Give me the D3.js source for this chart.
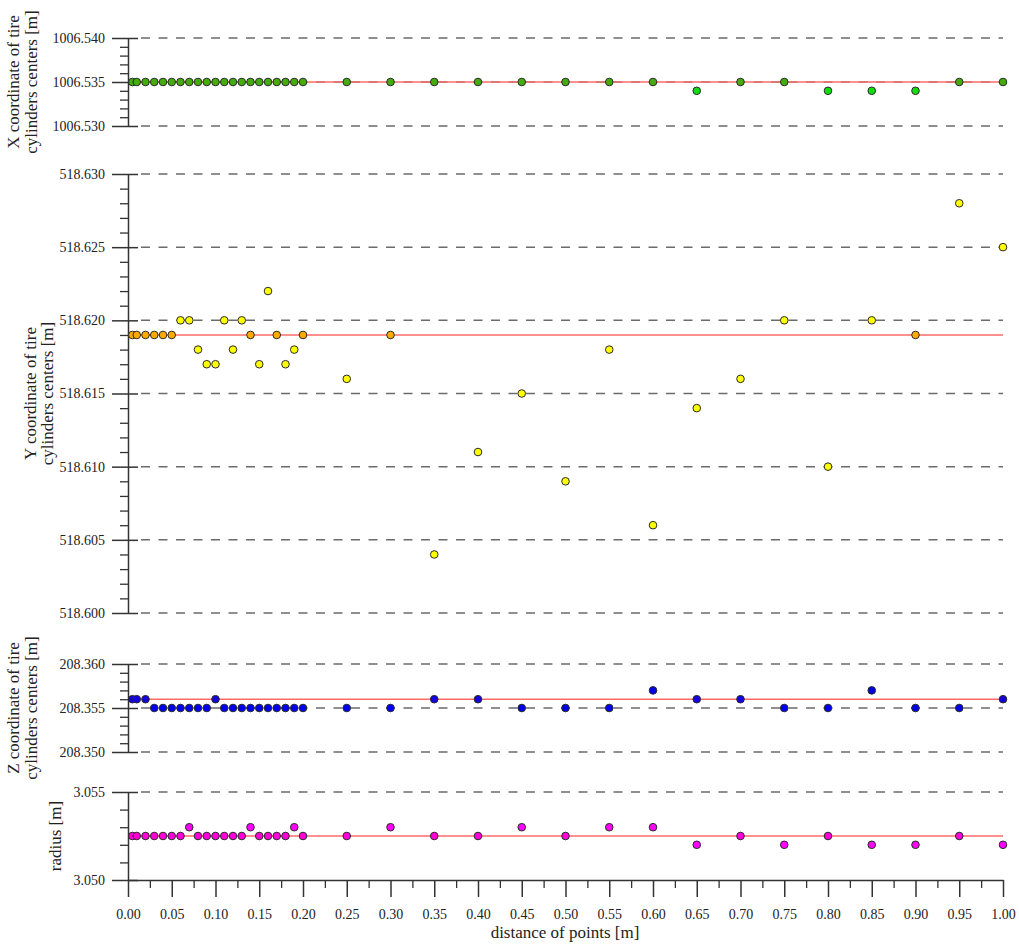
<!DOCTYPE html>
<meta charset="utf-8">
<head>
  <script src="https://d3js.org/d3.v7.min.js"></script>
  <style>
    body { margin: 0; background: #fff; }
    text { font-family: "Liberation Serif", "Times New Roman", serif; fill: #222; }
  </style>
</head>
<body>
<div id="chart"></div>
<script>
// distances along the tire [m]
var distance = [0.005, 0.01, 0.02, 0.03, 0.04, 0.05, 0.06, 0.07, 0.08, 0.09, 0.10,
  0.11, 0.12, 0.13, 0.14, 0.15, 0.16, 0.17, 0.18, 0.19, 0.20,
  0.25, 0.30, 0.35, 0.40, 0.45, 0.50, 0.55, 0.60, 0.65, 0.70, 0.75, 0.80, 0.85, 0.90, 0.95, 1.00];

var xCenter = [1006.535, 1006.535, 1006.535, 1006.535, 1006.535, 1006.535, 1006.535, 1006.535, 1006.535, 1006.535, 1006.535,
  1006.535, 1006.535, 1006.535, 1006.535, 1006.535, 1006.535, 1006.535, 1006.535, 1006.535, 1006.535,
  1006.535, 1006.535, 1006.535, 1006.535, 1006.535, 1006.535, 1006.535, 1006.535, 1006.534, 1006.535,
  1006.535, 1006.534, 1006.534, 1006.534, 1006.535, 1006.535];

var yCenter = [518.619, 518.619, 518.619, 518.619, 518.619, 518.619, 518.620, 518.620, 518.618, 518.617, 518.617,
  518.620, 518.618, 518.620, 518.619, 518.617, 518.622, 518.619, 518.617, 518.618, 518.619,
  518.616, 518.619, 518.604, 518.611, 518.615, 518.609, 518.618, 518.606, 518.614, 518.616,
  518.620, 518.610, 518.620, 518.619, 518.628, 518.625];

var zCenter = [208.356, 208.356, 208.356, 208.355, 208.355, 208.355, 208.355, 208.355, 208.355, 208.355, 208.356,
  208.355, 208.355, 208.355, 208.355, 208.355, 208.355, 208.355, 208.355, 208.355, 208.355,
  208.355, 208.355, 208.356, 208.356, 208.355, 208.355, 208.355, 208.357, 208.356, 208.356,
  208.355, 208.355, 208.357, 208.355, 208.355, 208.356];

var radius = [3.0525, 3.0525, 3.0525, 3.0525, 3.0525, 3.0525, 3.0525, 3.053, 3.0525, 3.0525, 3.0525,
  3.0525, 3.0525, 3.0525, 3.053, 3.0525, 3.0525, 3.0525, 3.0525, 3.053, 3.0525,
  3.0525, 3.053, 3.0525, 3.0525, 3.053, 3.0525, 3.053, 3.053, 3.052, 3.0525,
  3.052, 3.0525, 3.052, 3.052, 3.0525, 3.052];

// mean values (red lines)
var means = [1006.535, 518.619, 208.356, 3.0525];

// tick labels
var xTicks = [0, 0.05, 0.10, 0.15, 0.20, 0.25, 0.30, 0.35, 0.40, 0.45, 0.50,
  0.55, 0.60, 0.65, 0.70, 0.75, 0.80, 0.85, 0.90, 0.95, 1.00];
var xTicksMinor = [0.025, 0.075, 0.125, 0.175, 0.225, 0.275, 0.325, 0.375, 0.425, 0.475,
  0.525, 0.575, 0.625, 0.675, 0.725, 0.775, 0.825, 0.875, 0.925, 0.975];
var xTickLabels = ["1006.530", "1006.535", "1006.540"];
var yTickLabels = ["518.600", "518.605", "518.610", "518.615", "518.620", "518.625", "518.630"];
var zTickLabels = ["208.350", "208.355", "208.360"];
var rTickLabels = ["3.050", "3.055"];

var width = 1019, height = 945;
var axisX = 128, right = 1003;

var svg = d3.select("#chart").append("svg")
  .attr("width", width)
  .attr("height", height);

var x = d3.scaleLinear().domain([0, 1]).range([axisX, right]);

var panels = [
  { values: xCenter, mean: means[0], ticks: xTickLabels, top: 38, bottom: 126, fill: "#11dd11", mix: 0.22,
    title: ["X coordinate of tire", "cylinders centers [m]"], tx: [13, 31], grid: true },
  { values: yCenter, mean: means[1], ticks: yTickLabels, top: 174, bottom: 613, fill: "#ffff00", mix: 0.33,
    title: ["Y coordinate of tire", "cylinders centers [m]"], tx: [30, 47], grid: true },
  { values: zCenter, mean: means[2], ticks: zTickLabels, top: 664, bottom: 752, fill: "#0000ee", mix: 0.08,
    title: ["Z coordinate of tire", "cylinders centers [m]"], tx: [13, 31], grid: true },
  { values: radius, mean: means[3], ticks: rTickLabels, top: 792, bottom: 880, fill: "#ff00ff", mix: 0.15,
    title: ["radius [m]"], tx: [55], grid: false }
];

panels.forEach(function (p) {
  var majors = p.ticks.map(Number);
  var lo = d3.min(majors), hi = d3.max(majors);
  var y = d3.scaleLinear().domain([lo, hi]).range([p.bottom, p.top]);
  var minors = [];
  for (var i = 0; i < majors.length - 1; i++) {
    for (var k = 1; k < 5; k++) minors.push(majors[i] + k * 0.001);
  }

  // dashed grid at the major ticks
  var gridVals = p.grid ? majors : majors.filter(function (v) { return v !== lo; });
  svg.append("g").selectAll("line")
    .data(gridVals)
    .enter().append("line")
    .attr("x1", 141).attr("x2", right)
    .attr("y1", function (d) { return y(d); })
    .attr("y2", function (d) { return y(d); })
    .attr("stroke", "#6b6b6b")
    .attr("stroke-width", 1.5)
    .attr("stroke-dasharray", "9,8.5");

  // minor ticks (left side)
  svg.append("g")
    .attr("transform", "translate(" + axisX + ",0)")
    .call(d3.axisLeft(y).tickValues(minors).tickSize(8).tickFormat(""))
    .call(function (g) { g.select(".domain").remove(); })
    .selectAll("line").attr("stroke", "#333").attr("stroke-width", 1.3);

  // major ticks, crossing the axis line
  var ax = svg.append("g")
    .attr("transform", "translate(" + axisX + ",0)")
    .call(d3.axisLeft(y).tickValues(majors).tickSize(16).tickSizeOuter(0).tickFormat(d3.format(".3f")));
  ax.select(".domain").attr("stroke", "#333").attr("stroke-width", 1.5);
  ax.selectAll(".tick line").attr("x1", 10).attr("stroke", "#333").attr("stroke-width", 1.5);
  ax.selectAll(".tick text")
    .attr("x", -23)
    .style("font-size", "14px")
    .style("font-family", "'Liberation Serif', 'Times New Roman', serif")
    .attr("fill", "#333");

  // mean line
  svg.append("line")
    .attr("x1", x(d3.min(distance))).attr("x2", x(d3.max(distance)))
    .attr("y1", y(p.mean)).attr("y2", y(p.mean))
    .attr("stroke", "#ff6b6b")
    .attr("stroke-width", 1.6);

  // points; the ones sitting on the mean line look blended with the red
  var pts = distance.map(function (d, i) { return { d: d, v: p.values[i] }; });
  svg.append("g").selectAll("circle")
    .data(pts)
    .enter().append("circle")
    .attr("cx", function (d) { return x(d.d); })
    .attr("cy", function (d) { return y(d.v); })
    .attr("r", 3.8)
    .attr("fill", function (d) {
      return Math.abs(d.v - p.mean) < 1e-7 ? d3.interpolateRgb(p.fill, "#ff0000")(p.mix) : p.fill;
    })
    .attr("stroke", "#2a2a2a")
    .attr("stroke-width", 1);

  // axis title
  var cy = (p.top + p.bottom) / 2;
  p.title.forEach(function (t, j) {
    svg.append("text")
      .attr("transform", "translate(" + p.tx[j] + "," + cy + ") rotate(-90)")
      .attr("text-anchor", "middle")
      .attr("dy", "0.35em")
      .style("font-size", "17px")
      .text(t);
  });
});

// x axis at the bottom
var xa = svg.append("g")
  .attr("transform", "translate(0,880)")
  .call(d3.axisBottom(x).tickValues(xTicks).tickSize(17).tickSizeOuter(0).tickFormat(d3.format(".2f")));
xa.select(".domain").attr("stroke", "#333").attr("stroke-width", 1.5);
xa.selectAll(".tick line").attr("stroke", "#333").attr("stroke-width", 1.5);
xa.selectAll(".tick text")
  .attr("y", 29)
  .style("font-size", "14px")
  .style("font-family", "'Liberation Serif', 'Times New Roman', serif")
  .attr("fill", "#333");

svg.append("g")
  .attr("transform", "translate(0,880)")
  .call(d3.axisBottom(x).tickValues(xTicksMinor).tickSize(8).tickFormat(""))
  .call(function (g) { g.select(".domain").remove(); })
  .selectAll("line").attr("stroke", "#333").attr("stroke-width", 1.3);

svg.append("text")
  .attr("x", 565)
  .attr("y", 938)
  .attr("text-anchor", "middle")
  .style("font-size", "17px")
  .text("distance of points [m]");
</script>
</body>
